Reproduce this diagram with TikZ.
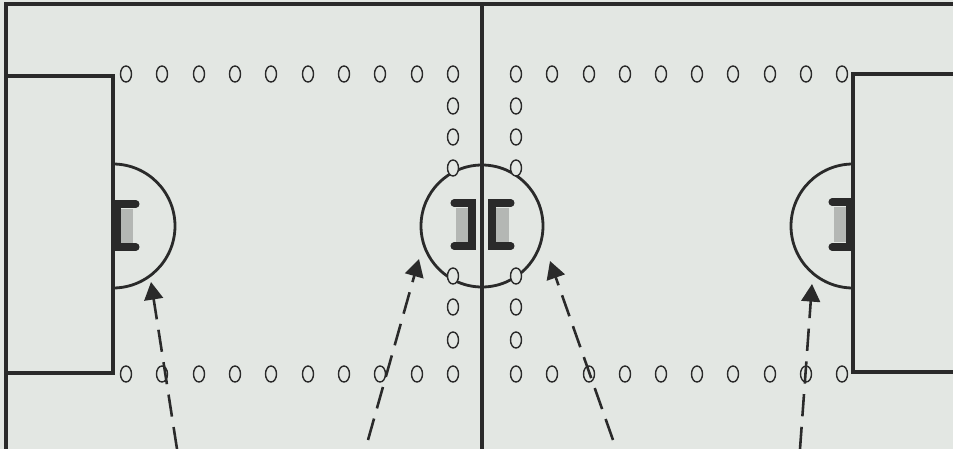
\documentclass[tikz,border=0pt]{standalone}
\usepackage{tikz}
\usetikzlibrary{arrows.meta,shapes.geometric}

\definecolor{pitch}{HTML}{E3E7E3}
\definecolor{ink}{HTML}{2A2A2A}
\definecolor{goalgray}{HTML}{B4B7B4}

\begin{document}
\begin{tikzpicture}[x=0.03cm, y=-0.03cm,
  court/.style={draw=ink, line width=3pt},
  ring/.style={draw=ink, line width=2.4pt},
  cone/.style={ellipse, draw=ink, fill=pitch, line width=1.2pt, inner sep=0pt,
    minimum width=0.33cm, minimum height=0.48cm},
  bracket/.style={draw=ink, line width=6pt, line cap=round, line join=miter},
  net/.style={fill=goalgray},
  run/.style={draw=ink, line width=2.2pt, dash pattern=on 19pt off 9pt,
    -{Triangle[length=15pt, width=16pt]}}]
  % pitch area, 1 unit = 1 px, y downwards
  \useasboundingbox (0,0) rectangle (953,449);
  \fill[pitch] (0,0) rectangle (953,449);
  % outer line and half-way line
  \draw[court] (953,4) -- (6,4) -- (6,449);
  \draw[court] (482,4) -- (482,449);
  % boxes at both ends
  \draw[court] (6,76) -- (113,76) -- (113,373) -- (6,373);
  \draw[court] (953,74) -- (853,74) -- (853,372) -- (953,372);
  % circles
  \draw[ring] (113,164) arc (-90:90:62);
  \draw[ring] (853,164) arc (-90:-270:62);
  \draw[ring] (482,226) circle (61);
  % goals: grey net, dark frame
  \fill[net] (121,209) rectangle (133,243);
  \draw[bracket] (136,204) -- (117,204) -- (117,247) -- (136,247);
  \fill[net] (456,208) rectangle (468,242);
  \draw[bracket] (454,203) -- (472,203) -- (472,246) -- (454,246);
  \fill[net] (496,208) rectangle (509,242);
  \draw[bracket] (511,203) -- (492,203) -- (492,246) -- (511,246);
  \fill[net] (834,207) rectangle (847,242);
  \draw[bracket] (832,202) -- (850,202) -- (850,247) -- (832,247);
  % cones along the long sides
  \foreach \x [count=\i] in {126,162,199,235,271,308,344,380,417,453} {
    \node[cone] (tl\i) at (\x,74) {};
    \node[cone] (bl\i) at (\x,374) {};
  }
  \foreach \x [count=\i] in {516,552,589,625,661,697,733,770,806,842} {
    \node[cone] (tr\i) at (\x,74) {};
    \node[cone] (br\i) at (\x,374) {};
  }
  % cones beside the half-way line
  \foreach \y [count=\i] in {106,137,168,276,307,340} {
    \node[cone] (cl\i) at (453,\y) {};
    \node[cone] (cr\i) at (516,\y) {};
  }
  % runs into the circles
  \coordinate (s1) at (177,449);
  \coordinate (e1) at (151,282);
  \coordinate (s2) at (368,440);
  \coordinate (e2) at (419,259);
  \coordinate (s3) at (613,440);
  \coordinate (e3) at (550,261);
  \coordinate (s4) at (800,449);
  \coordinate (e4) at (812,284);
  \foreach \k in {1,...,4}
    \draw[run] (s\k) -- (e\k);
\end{tikzpicture}
\end{document}
